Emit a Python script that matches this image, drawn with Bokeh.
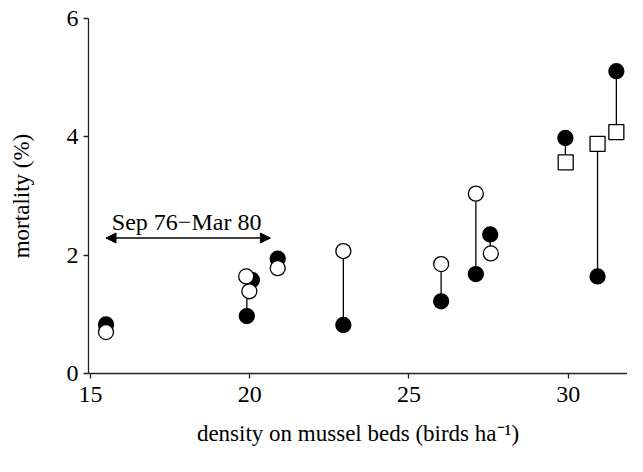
from bokeh.plotting import figure
from bokeh.models import Arrow, NormalHead, Label, FixedTicker, Range1d
from bokeh.embed import file_html
from bokeh.resources import INLINE

# Filled circles (one per pair)
filled_x = [15.49, 19.91, 20.07, 20.88, 22.94, 26.01, 27.10, 27.55, 29.91, 30.92, 31.51]
filled_y = [0.83, 0.97, 1.58, 1.94, 0.82, 1.22, 1.68, 2.35, 3.98, 1.64, 5.11]
# Open circles (paired, in the same order as the first filled points)
open_x = [15.49, 19.99, 19.89, 20.88, 22.94, 26.01, 27.10, 27.57]
open_y = [0.70, 1.39, 1.64, 1.78, 2.07, 1.85, 3.04, 2.03]
# Open squares (paired with the last filled points)
square_x = [29.92, 30.92, 31.51]
square_y = [3.57, 3.88, 4.08]

x_ticks = [15, 20, 25, 30]
y_ticks = [0, 2, 4, 6]
period_label = "Sep 76\u2212Mar 80"
period_start, period_end, period_y = 15.49, 20.65, 2.29
period_label_x, period_label_y = 18.02, 2.556
x_label = "density on mussel beds (birds ha\u207b\u00b9)"
y_label = "mortality (%)"

FONT = "Liberation Serif"

p = figure(width=627, height=456, output_backend="svg", toolbar_location=None,
           x_range=Range1d(14.94, 31.86), y_range=Range1d(0, 6),
           min_border_left=88, min_border_right=0, min_border_top=18, min_border_bottom=83)
p.outline_line_color = None
p.xgrid.visible = False
p.ygrid.visible = False
p.background_fill_color = "white"

for ax in (p.xaxis[0], p.yaxis[0]):
    ax.axis_line_color = "#222222"
    ax.axis_line_width = 1.3
    ax.major_tick_line_color = "#222222"
    ax.major_tick_line_width = 1.3
    ax.major_tick_in = 0
    ax.major_tick_out = 5
    ax.minor_tick_line_color = None
    ax.major_label_text_font = FONT
    ax.major_label_text_font_size = "24px"
    ax.major_label_text_color = "black"
    ax.axis_label_text_font = FONT
    ax.axis_label_text_font_size = "23px"
    ax.axis_label_text_font_style = "normal"
    ax.axis_label_text_color = "black"

p.xaxis[0].ticker = FixedTicker(ticks=x_ticks)
p.yaxis[0].ticker = FixedTicker(ticks=y_ticks)
p.xaxis[0].axis_label = x_label
p.yaxis[0].axis_label = y_label
p.xaxis[0].major_label_standoff = 8
p.xaxis[0].axis_label_standoff = 16
p.yaxis[0].major_label_standoff = 5
p.yaxis[0].axis_label_standoff = 30

# connecting segments
other_y = open_y + square_y
p.segment(x0=filled_x, y0=filled_y, x1=filled_x, y1=other_y, line_color="black", line_width=1.3)

p.scatter(filled_x, filled_y, marker="circle", size=15, fill_color="black", line_color="black", line_width=1.3)
p.scatter(open_x, open_y, marker="circle", size=15, fill_color="white", line_color="black", line_width=1.3)
p.scatter(square_x, square_y, marker="square", size=15, fill_color="white", line_color="black", line_width=1.3)

arrow = Arrow(x_start=period_start, y_start=period_y, x_end=period_end, y_end=period_y,
              line_color="black", line_width=1.5,
              start=NormalHead(size=10, fill_color="black", line_color="black"),
              end=NormalHead(size=10, fill_color="black", line_color="black"))
p.add_layout(arrow)

lab = Label(x=period_label_x, y=period_label_y, text=period_label,
            text_font=FONT, text_font_size="24px", text_align="center",
            text_baseline="alphabetic", text_color="black")
p.add_layout(lab)

open("out.html", "w").write(file_html(p, INLINE))
